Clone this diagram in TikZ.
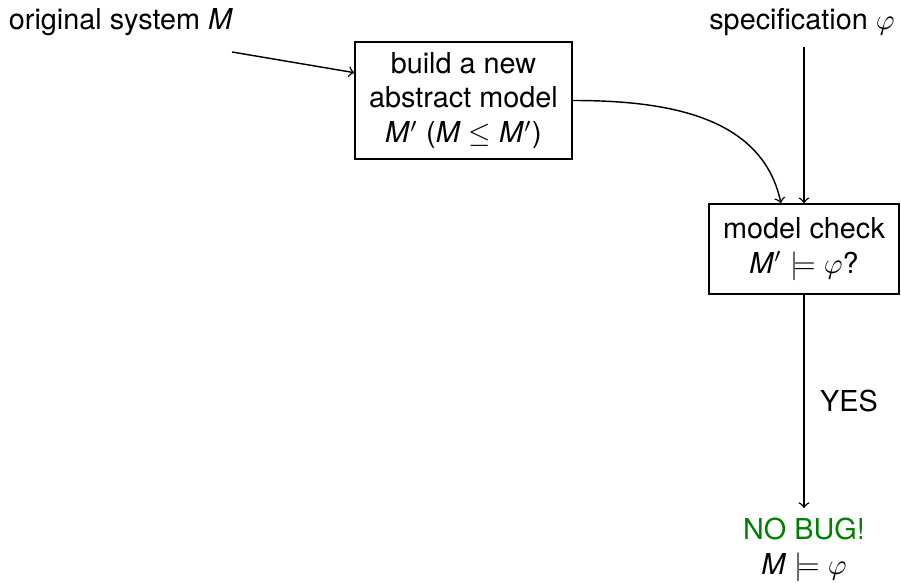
\documentclass[tikz,border=0pt]{standalone}
\usepackage{fontspec}
\setmainfont{TeX Gyre Heros}
\usetikzlibrary{calc}
\newcommand{\Mi}{\textit{M}}
\begin{document}
\begin{tikzpicture}[x=0.3472pt,y=0.3472pt,
  every node/.style={font=\normalsize},
  box/.style={draw,align=center,inner sep=0pt,line width=0.5pt},
  conn/.style={->,line width=0.5pt},
  lbl/.style={align=center}]
\useasboundingbox (0,0) rectangle (901,583);
\node[lbl] (os) at (121,561) {original system \Mi};
\node[box,minimum width=75.3pt,minimum height=40.6pt] (b1) at (463.5,482.5)
  {build a new\\abstract model\\\Mi$'$ (\Mi\ $\le$ \Mi$'$)};
\node[lbl] (sp) at (802,561) {specification $\varphi$};
\node[box,minimum width=66pt,minimum height=31.2pt] (b2) at (804,334)
  {model check\\\Mi$'$ $\models\varphi$?};
\node[lbl] (nb) at (804,33) {\textcolor{green!50!black}{NO BUG!}\\\Mi\ $\models\varphi$};
\coordinate (a0) at (232,531);
\coordinate (s0) at (804,536);
\draw[conn] (a0) -- ($(b1.north west)!0.265!(b1.south west)$);
\draw[conn] (b1.east) to[out=0,in=102] ([xshift=-8]b2.north);
\draw[conn] (s0) -- (b2.north);
\draw[conn] (b2.south) -- node[midway,right,xshift=2pt] {YES} (nb.north);
\end{tikzpicture}
\end{document}
